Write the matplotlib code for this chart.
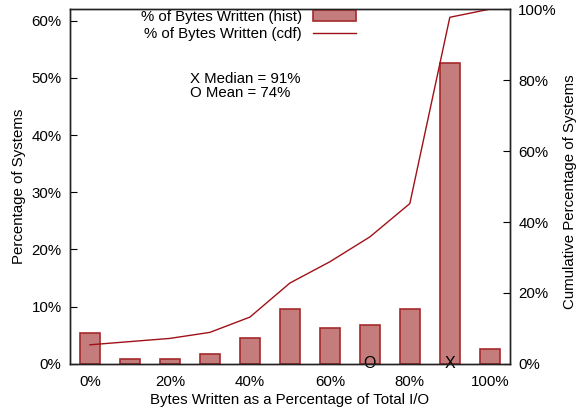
import numpy as np
import matplotlib
matplotlib.use("Agg")
from matplotlib import pyplot as plt

plt.rcParams['font.family'] = ['Liberation Sans', 'DejaVu Sans']
plt.rcParams['font.size'] = 10.8

# data
bins = [0, 10, 20, 30, 40, 50, 60, 70, 80, 90, 100]
hist_pct = [5.4, 0.9, 0.9, 1.7, 4.5, 9.6, 6.3, 6.8, 9.6, 52.5, 2.6]
cdf_pct = [5.4, 6.3, 7.2, 8.9, 13.2, 22.8, 28.8, 35.8, 45.2, 97.7, 100.0]
median_val = 90
mean_val = 70
x_ticks = [0, 20, 40, 60, 80, 100]
left_ticks = [0, 10, 20, 30, 40, 50, 60]
right_ticks = [0, 20, 40, 60, 80, 100]

bar_fill = '#c47c7c'
bar_edge = '#a52a2a'
line_col = '#a01018'

fig = plt.figure(figsize=(5.78, 4.15), dpi=100)
ax = fig.add_axes([0.121, 0.123, 0.761, 0.855])
ax2 = ax.twinx()

bars = ax.bar(bins, hist_pct, width=5, color=bar_fill, edgecolor=bar_edge,
              linewidth=1.2, label='% of Bytes Written (hist)')
line, = ax2.plot(bins, cdf_pct, color=line_col, linewidth=1.0,
                 label='% of Bytes Written (cdf)')

ax.set_xlim(-5, 105)
ax.set_ylim(0, 62)
ax2.set_ylim(0, 100)

ax.set_xticks(x_ticks)
ax.set_xticklabels([f'{t}%' for t in x_ticks])
ax.set_yticks(left_ticks)
ax.set_yticklabels([f'{t}%' for t in left_ticks])
ax2.set_yticks(right_ticks)
ax2.set_yticklabels([f'{t}%' for t in right_ticks])

ax.tick_params(axis='x', length=0, pad=8)
ax.tick_params(axis='y', direction='in', length=5, pad=6)
ax2.tick_params(axis='y', direction='in', length=5, pad=6)

for a in (ax, ax2):
    for s in a.spines.values():
        s.set_linewidth(1.0)
        s.set_color('#222222')

ax.set_xlabel('Bytes Written as a Percentage of Total I/O', labelpad=3)
ax.set_ylabel('Percentage of Systems', labelpad=4)
ax2.set_ylabel('Cumulative Percentage of Systems')
ax2.yaxis.set_label_coords(1.122, 0.485)

# median / mean markers on the x axis
ax.text(median_val, 0, 'X', ha='center', va='center', fontsize=11.5, clip_on=False)
ax.text(mean_val, 0, 'O', ha='center', va='center', fontsize=11.5, clip_on=False)

ax.text(0.273, 0.782, 'X Median = 91%\nO Mean = 74%', transform=ax.transAxes,
        ha='left', va='center', linespacing=1.0)

ax.legend([bars, line], ['% of Bytes Written (hist)', '% of Bytes Written (cdf)'],
          loc='upper right', bbox_to_anchor=(356 / 578, 1 - 10 / 415),
          bbox_transform=fig.transFigure, frameon=False, markerfirst=False,
          handlelength=2.9, handletextpad=0.7, borderpad=0, borderaxespad=0,
          labelspacing=0.2)

fig.savefig('out.png', dpi=100)
